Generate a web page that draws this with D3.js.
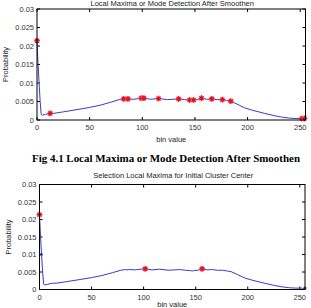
<!DOCTYPE html>
<html>
<head>
<meta charset="utf-8">
<script src="https://cdn.jsdelivr.net/npm/d3@7"></script>
<style>
  body { margin: 0; background: #fff; }
  svg { display: block; }
  .tick-label { font-family: "Liberation Sans", Arial, sans-serif; font-size: 7.5px; fill: #333; }
  .axis-title { font-family: "Liberation Sans", Arial, sans-serif; font-size: 7.5px; fill: #222; }
  .caption { font-family: "Liberation Serif", "Times New Roman", serif; font-size: 11px; font-weight: bold; fill: #000; }
</style>
</head>
<body>
<div id="chart"></div>
<script>
// smoothed histogram (bin value -> probability)
const binValues = [0, 1, 2, 3, 4, 5, 8, 12.5, 16, 25, 40, 50, 60, 70, 78, 82.4, 84, 86.4, 92, 99, 100, 101.5,
  108, 115.4, 124, 134.5, 140, 144.9, 147, 148.7, 152, 156.2, 161, 166, 171, 176, 180, 184, 190, 197, 205,
  216, 225, 232, 240, 246, 251.5, 253, 254, 255];
const probValues = [0.0214, 0.0150, 0.0100, 0.0050, 0.0015, 0.0013, 0.0015, 0.0018, 0.0018, 0.0022, 0.0029,
  0.0034, 0.0040, 0.0048, 0.0055, 0.0057, 0.0056, 0.0057, 0.0056, 0.0059, 0.0058, 0.0059, 0.0056, 0.0058,
  0.0055, 0.0057, 0.0055, 0.0054, 0.0053, 0.0054, 0.0055, 0.0059, 0.0056, 0.0057, 0.0055, 0.0055, 0.0053,
  0.0051, 0.0043, 0.0033, 0.0026, 0.0018, 0.0012, 0.0008, 0.0005, 0.0004, 0.0004, 0.0003, 0.0004, 0.0003];

// detected local maxima (top panel)
const modeBins = [0, 12.5, 82.4, 86.4, 99, 101.5, 115.4, 134.5, 144.9, 148.7, 156.2, 166, 176, 184, 251.5, 254];
const modeProbs = [0.0214, 0.0018, 0.0057, 0.0057, 0.0059, 0.0059, 0.0058, 0.0057, 0.0054, 0.0054, 0.0059,
  0.0057, 0.0055, 0.0051, 0.0004, 0.0004];

// selected maxima (bottom panel)
const selectedBins = [0, 101.5, 156.2];
const selectedProbs = [0.0214, 0.0059, 0.0059];
const edgeBins = [1.5, 255];
const edgeProbs = [0.0100, 0.0004];

const xTicks = [0, 50, 100, 150, 200, 250];
const yTicks = [0, 0.005, 0.01, 0.015, 0.02, 0.025, 0.03];
const yTickLabels = ["0", "0.005", "0.01", "0.015", "0.02", "0.025", "0.03"];

const topTitle = "Local Maxima or Mode Detection After Smoothen";
const bottomTitle = "Selection Local Maxima for Initial Cluster Center";
const captionText = "Fig 4.1 Local Maxima or Mode Detection After Smoothen";

const W = 311, H = 308;
const svg = d3.select("#chart").append("svg").attr("width", W).attr("height", H);

function starPath(s) {
  return `M${-s},0L${s},0M0,${-s}L0,${s}M${-s * 0.7},${-s * 0.7}L${s * 0.7},${s * 0.7}M${-s * 0.7},${s * 0.7}L${s * 0.7},${-s * 0.7}`;
}

function drawPanel(box, title, titleY, markers, extra) {
  const x = d3.scaleLinear().domain([0, 255]).range([box.left, box.right]);
  const y = d3.scaleLinear().domain([0, 0.03]).range([box.bottom, box.top]);
  const g = svg.append("g");

  g.append("text").attr("class", "axis-title")
    .attr("x", (box.left + box.right) / 2 + 1).attr("y", titleY)
    .attr("text-anchor", "middle").text(title);

  // ticks, inward on all four sides
  const tl = 3;
  xTicks.forEach(t => {
    g.append("line").attr("x1", x(t)).attr("x2", x(t)).attr("y1", box.bottom).attr("y2", box.bottom - tl).attr("stroke", "#000");
    g.append("line").attr("x1", x(t)).attr("x2", x(t)).attr("y1", box.top).attr("y2", box.top + tl).attr("stroke", "#000");
    g.append("text").attr("class", "tick-label").attr("x", x(t)).attr("y", box.bottom + 10)
      .attr("text-anchor", "middle").text(String(t));
  });
  yTicks.forEach((t, i) => {
    g.append("line").attr("x1", box.left).attr("x2", box.left + tl).attr("y1", y(t)).attr("y2", y(t)).attr("stroke", "#000");
    g.append("line").attr("x1", box.right).attr("x2", box.right - tl).attr("y1", y(t)).attr("y2", y(t)).attr("stroke", "#000");
    g.append("text").attr("class", "tick-label").attr("x", box.left - 3).attr("y", y(t) + 2.7)
      .attr("text-anchor", "end").text(yTickLabels[i]);
  });

  const line = d3.line().x((d, i) => x(binValues[i])).y(d => y(d));
  g.append("path").datum(probValues).attr("d", line)
    .attr("fill", "none").attr("stroke", "#3a3ac8").attr("stroke-width", 1);

  if (extra) {
    g.selectAll(".edge").data(extra.bins).enter().append("path")
      .attr("transform", (d, i) => `translate(${x(d)},${y(extra.probs[i])})`)
      .attr("d", starPath(1.6)).attr("stroke", "#2222aa").attr("stroke-width", 0.8);
  }

  const mk = g.selectAll(".mk").data(markers.bins).enter().append("g")
    .attr("transform", (d, i) => `translate(${x(d)},${y(markers.probs[i])})`);
  mk.append("circle").attr("r", 3).attr("fill", "#f5a3ad").attr("opacity", 0.7);
  mk.append("path").attr("d", starPath(2.8)).attr("stroke", "#e3101e").attr("stroke-width", 1.1);

  // box
  g.append("rect").attr("x", box.left).attr("y", box.top)
    .attr("width", box.right - box.left).attr("height", box.bottom - box.top)
    .attr("fill", "none").attr("stroke", "#000").attr("stroke-width", 1);

  g.append("text").attr("class", "axis-title")
    .attr("x", (box.left + box.right) / 2).attr("y", box.labelY)
    .attr("text-anchor", "middle").text("bin value");
  g.append("text").attr("class", "axis-title")
    .attr("transform", `translate(${box.ylabX},${(box.top + box.bottom) / 2}) rotate(-90)`)
    .attr("text-anchor", "middle").text("Probability");
}

drawPanel({ left: 37, right: 305.5, top: 9, bottom: 120, labelY: 142, ylabX: 8 },
  topTitle, 6, { bins: modeBins, probs: modeProbs });

svg.append("text").attr("class", "caption")
  .attr("x", 166).attr("y", 161.5).attr("text-anchor", "middle")
  .attr("textLength", 268).attr("lengthAdjust", "spacingAndGlyphs")
  .text(captionText);

drawPanel({ left: 39.5, right: 305, top: 184.5, bottom: 289.5, labelY: 306.5, ylabX: 11 },
  bottomTitle, 178, { bins: selectedBins, probs: selectedProbs }, { bins: edgeBins, probs: edgeProbs });
</script>
</body>
</html>
